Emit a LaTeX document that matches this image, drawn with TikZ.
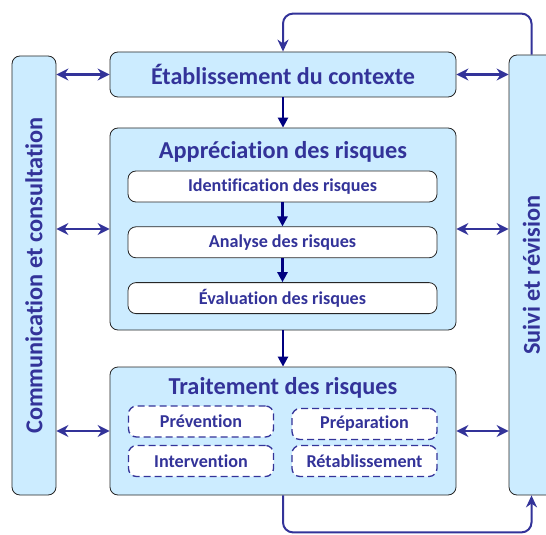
\documentclass[tikz,border=0pt]{standalone}
\usepackage{fontspec}
\setmainfont{Carlito}[Ligatures=NoCommon]
\usepackage{xcolor}
\usepackage{tikz}
\usetikzlibrary{arrows.meta,positioning,calc}
\definecolor{ink}{HTML}{333399}
\definecolor{navy}{HTML}{000080}
\definecolor{sky}{HTML}{CCECFF}

\begin{document}
\begin{tikzpicture}[
    x=1bp,y=-1bp,
    box/.style={draw=black!85,line width=0.8bp,rounded corners=8bp,inner sep=0pt,align=center,text=ink,font=\bfseries},
    mainbox/.style={box,fill=sky,minimum width=346bp},
    sidebox/.style={box,fill=sky,font=\bfseries\fontsize{24.4}{28}\selectfont},
    stepbox/.style={box,fill=white,minimum width=309bp,minimum height=31bp,font=\bfseries\fontsize{18.2}{21}\selectfont},
    actbox/.style={box,draw=ink,dash pattern=on 7bp off 4bp,line width=1.3bp,fill=white,minimum width=145bp,minimum height=31bp,font=\bfseries\fontsize{18.2}{21}\selectfont},
    title/.style={text=ink,font=\bfseries\fontsize{24.4}{28}\selectfont,inner sep=0pt},
    arrow/.style={-{Triangle[length=10bp,width=10bp]},line width=2.4bp,draw=navy},
    biarrow/.style={{Stealth[length=12bp,width=12bp]}-{Stealth[length=12bp,width=12bp]},line width=2.4bp,draw=ink},
    loop/.style={-{Stealth[length=12bp,width=11bp]},line width=2bp,draw=ink,rounded corners=10bp}
  ]
    \clip (0,0) rectangle (546,535);

    % side columns
    \node[sidebox,minimum width=439bp,minimum height=44bp,rotate=90] (comm) at (34,275.5) {Communication et consultation};
    \node[sidebox,minimum width=440bp,minimum height=45bp,rotate=90] (suivi) at (531.5,275) {Suivi et révision};

    % main flow
    \node[mainbox,minimum height=45bp,font=\bfseries\fontsize{24.2}{28}\selectfont] (ctx) at (283,74.5) {Établissement du contexte};
    \node[mainbox,minimum height=202bp] (appr) at (283,229) {};
    \node[mainbox,minimum height=128bp] (trait) at (283,431) {};

    \node[title] (apprtitle) at (283,152) {Appréciation des risques};
    \node[stepbox] (ident) at (282.5,186.5) {Identification des risques};
    \node[stepbox,below=24bp of ident] (analyse) {Analyse des risques};
    \node[stepbox,below=24bp of analyse] (evalu) {Évaluation des risques};

    \node[title] (traittitle) at (283,388) {Traitement des risques};
    \node[actbox] (prev) at (201,421.5) {Prévention};
    \node[actbox] (prep) at (364.5,424) {Préparation};
    \node[actbox] (interv) at (201,461) {Intervention};
    \node[actbox] (retab) at (364.5,461) {Rétablissement};

    \draw[arrow] (ctx) -- (appr);
    \draw[arrow] (ident) -- (analyse);
    \draw[arrow] (analyse) -- (evalu);
    \draw[arrow] (appr) -- (trait);

    \draw[biarrow] (ctx.west -| comm.south) -- (ctx.west);
    \draw[biarrow] (appr.west -| comm.south) -- (appr.west);
    \draw[biarrow] (trait.west -| comm.south) -- (trait.west);
    \draw[biarrow] (ctx.east) -- (ctx.east -| suivi.north);
    \draw[biarrow] (appr.east) -- (appr.east -| suivi.north);
    \draw[biarrow] (trait.east) -- (trait.east -| suivi.north);

    \draw[loop] (suivi.east) -- ++(0,-41) -| (ctx.north);
    \draw[loop] (trait.south) -- ++(0,37) -| (suivi.west);
  \end{tikzpicture}
\end{document}
